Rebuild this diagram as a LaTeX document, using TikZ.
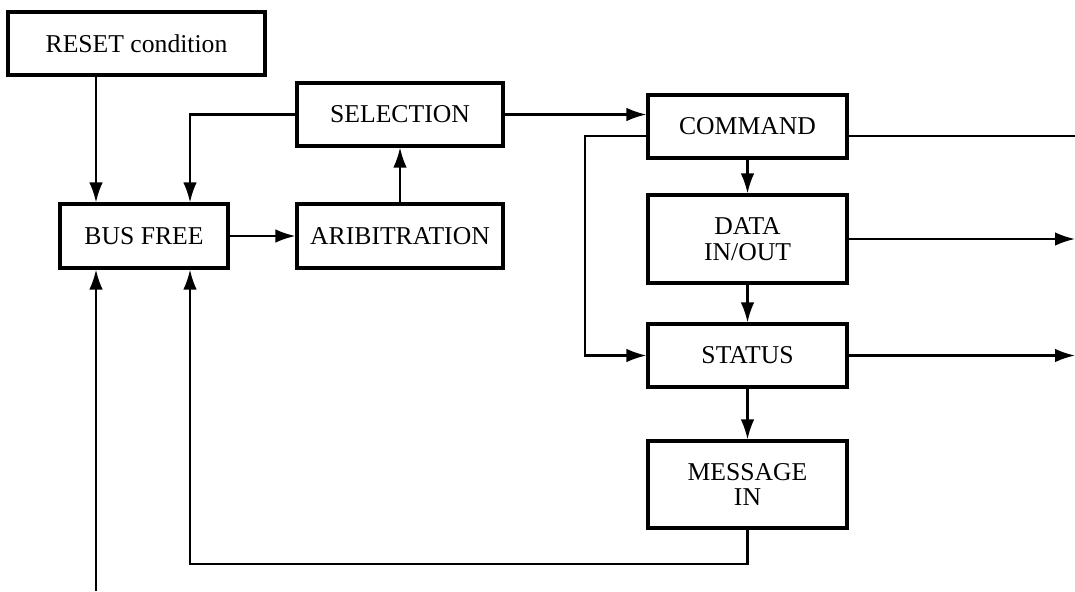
\documentclass[tikz,border=0pt]{standalone}
\usepackage{fontspec}
\setmainfont{Liberation Serif}
\usetikzlibrary{arrows.meta}

\begin{document}
\begin{tikzpicture}[
  >={Latex[length=2mm,width=1.35mm]},
  phase/.style={draw, line width=0.9pt, inner sep=0pt, minimum width=1.99cm,
    minimum height=0.63cm, align=center, font=\fontsize{7.3}{7.3}\selectfont},
  link/.style={line width=0.6pt}
]
\useasboundingbox (0,0) rectangle (10.75,5.91);

% Bus phases
\node[phase, minimum width=2.57cm] (reset) at (1.365,5.475) {RESET condition};
\node[phase, minimum width=1.68cm, minimum height=0.64cm] (bus) at (1.44,3.55) {BUS FREE};
\node[phase, minimum width=2.06cm, minimum height=0.64cm] (arb) at (4.00,3.55) {ARIBITRATION};
\node[phase, minimum width=2.06cm] (sel) at (4.00,4.765) {SELECTION};

% Information transfer phases
\node[phase] (cmd) at (7.475,4.645) {COMMAND};
\node[phase, minimum height=0.88cm] (data) at (7.475,3.52) {DATA\\IN/OUT};
\node[phase] (stat) at (7.475,2.355) {STATUS};
\node[phase, minimum height=0.87cm] (msg) at (7.475,1.065) {MESSAGE\\IN};

% Routing points
\coordinate (xa) at (0.96,0);
\coordinate (xb) at (1.90,0);
\coordinate (xc) at (5.85,4.55);
\coordinate (xr) at (10.75,0);
\coordinate (yb) at (0,0.27);

% Arbitration and selection
\draw[link,->] (reset.south -| xa) -- (bus.north -| xa);
\draw[link,->] (bus.east) -- (arb.west);
\draw[link,->] (arb) -- (sel);
\draw[link,->] (sel.west) -| (bus.north -| xb);
\draw[link,->] (sel.east) -- (sel.east -| cmd.west);

% Transfer sequence
\draw[link,->] (cmd) -- (data);
\draw[link,->] (data) -- (stat);
\draw[link,->] (stat) -- (msg);
\draw[link,->] (cmd.west |- xc) -- (xc) |- (stat.west);

% Outgoing lines
\draw[link] (cmd.east |- xc) -- (xc -| xr);
\draw[link,->] (data.east) -- (data.east -| xr);
\draw[link,->] (stat.east) -- (stat.east -| xr);

% Back to bus free
\draw[link,->] (msg.south) -- (msg.south |- yb) -| (bus.south -| xb);
\draw[link,->] (xa) -- (bus.south -| xa);

\end{tikzpicture}
\end{document}
